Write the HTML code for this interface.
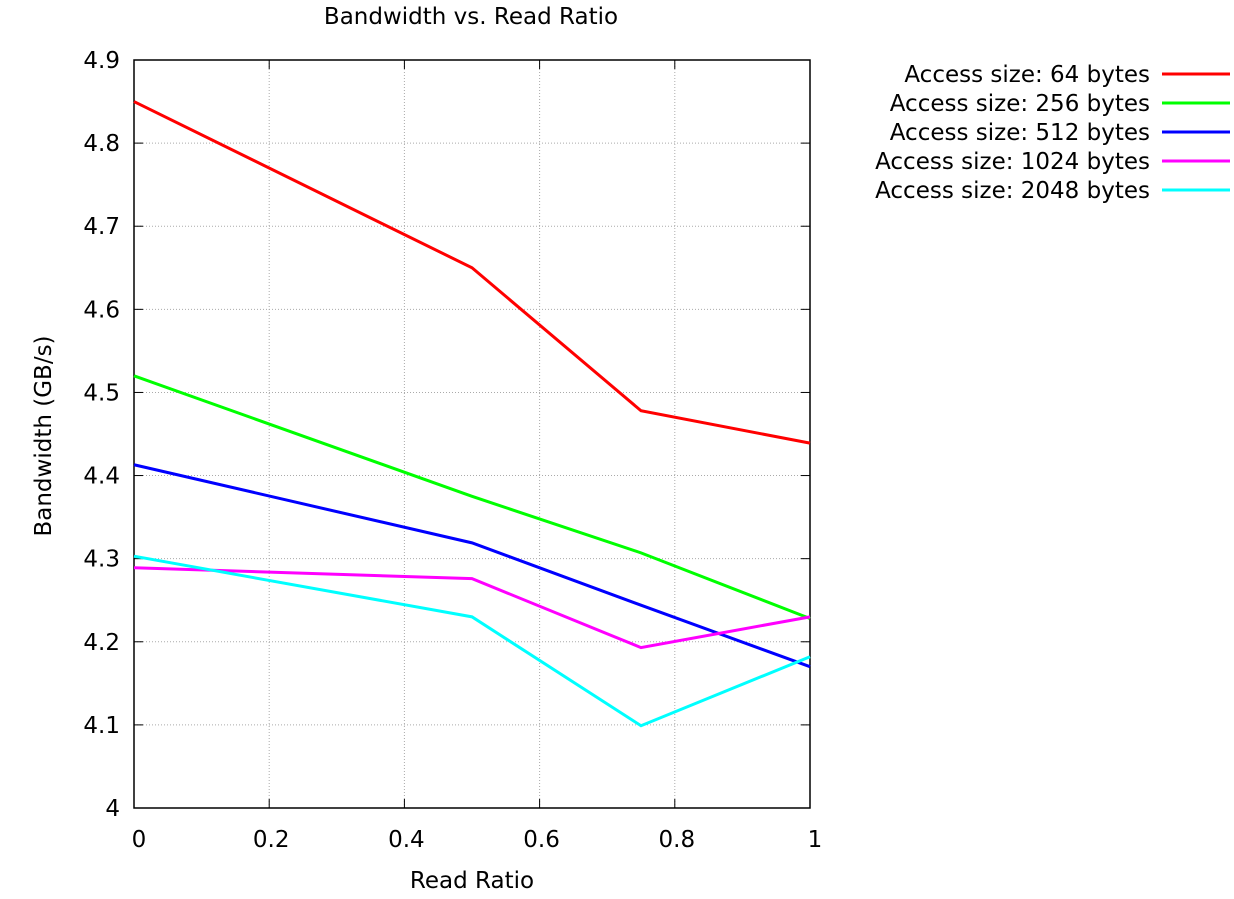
<!DOCTYPE html>
<html><head><meta charset="utf-8"><style>
body{margin:0;background:#fff;}
svg{display:block;font-family:"DejaVu Sans","Liberation Sans",sans-serif;}
</style></head><body>
<svg id="chart" width="1234" height="899">
<text x="471" y="24" text-anchor="middle" font-size="23">Bandwidth vs. Read Ratio</text>
<text x="472" y="888" text-anchor="middle" font-size="23">Read Ratio</text>
<text transform="translate(51,436) rotate(-90)" text-anchor="middle" font-size="23">Bandwidth (GB/s)</text>
<g id="grid"></g><g id="axes"></g><g id="series"></g><g id="legend"></g>
</svg>
<script>
const xValues=[0,0.5,0.75,1];
const seriesNames=["Access size: 64 bytes","Access size: 256 bytes","Access size: 512 bytes","Access size: 1024 bytes","Access size: 2048 bytes"];
const s64=[4.85,4.65,4.478,4.439];
const s256=[4.52,4.375,4.307,4.228];
const s512=[4.413,4.319,4.244,4.17];
const s1024=[4.289,4.276,4.193,4.230];
const s2048=[4.303,4.230,4.099,4.182];
const xTicks=[0,0.2,0.4,0.6,0.8,1];
const xTickLabels=["0","0.2","0.4","0.6","0.8","1"];
const yTicks=[4,4.1,4.2,4.3,4.4,4.5,4.6,4.7,4.8,4.9];
const yTickLabels=["4","4.1","4.2","4.3","4.4","4.5","4.6","4.7","4.8","4.9"];
const colors=["#ff0000","#00ff00","#0000ff","#ff00ff","#00ffff"];
const allSeries=[s64,s256,s512,s1024,s2048];
const L=134,R=810,T=60,B=808;
const xs=v=>L+(v-0)/(1-0)*(R-L);
const ys=v=>B-(v-4)/(4.9-4)*(B-T);
const NS="http://www.w3.org/2000/svg";
function mk(p,tag,a){const e=document.createElementNS(NS,tag);for(const k in a)e.setAttribute(k,a[k]);p.appendChild(e);return e;}
const grid=document.getElementById('grid'),axes=document.getElementById('axes'),ser=document.getElementById('series'),leg=document.getElementById('legend');
xTicks.forEach((t,i)=>{const x=xs(t);
 if(i>0&&i<xTicks.length-1){const g=mk(grid,'line',{x1:x,x2:x,y1:T,y2:B,stroke:'#aaa','stroke-width':1,'stroke-dasharray':'1,2'});
 
 }
 mk(axes,'line',{x1:x,x2:x,y1:B,y2:B-9,stroke:'#000'});mk(axes,'line',{x1:x,x2:x,y1:T,y2:T+9,stroke:'#000'});
 const tx=mk(axes,'text',{x:i==0?x+5:(i==xTicks.length-1?x+5:x+2),y:847,'text-anchor':'middle','font-size':23});tx.textContent=xTickLabels[i];
 
 });
yTicks.forEach((t,i)=>{const y=ys(t);
 if(i>0&&i<yTicks.length-1){const g=mk(grid,'line',{x1:L,x2:R,y1:y,y2:y,stroke:'#aaa','stroke-width':1,'stroke-dasharray':'1,2'});
 
 }
 mk(axes,'line',{x1:L,x2:L+9,y1:y,y2:y,stroke:'#000'});mk(axes,'line',{x1:R,x2:R-9,y1:y,y2:y,stroke:'#000'});
 const tx=mk(axes,'text',{x:120,y:y+8,'text-anchor':'end','font-size':23});tx.textContent=yTickLabels[i];
 
 });
const fr=mk(axes,'rect',{x:L,y:T,width:R-L,height:B-T,fill:'none',stroke:'#000','stroke-width':1.5});


allSeries.forEach((s,k)=>{
 const pl=mk(ser,'polyline',{points:s.map((v,i)=>xs(xValues[i])+','+ys(v)).join(' '),fill:'none',stroke:colors[k],'stroke-width':3});
 
 
 const y=74+k*29;
 const t=mk(leg,'text',{x:1150,y:y+8,'text-anchor':'end','font-size':23});t.textContent=seriesNames[k];
 
 
 const ln=mk(leg,'line',{x1:1162,x2:1230,y1:y,y2:y,stroke:colors[k],'stroke-width':3});
 
 
});
</script>
</body></html>
